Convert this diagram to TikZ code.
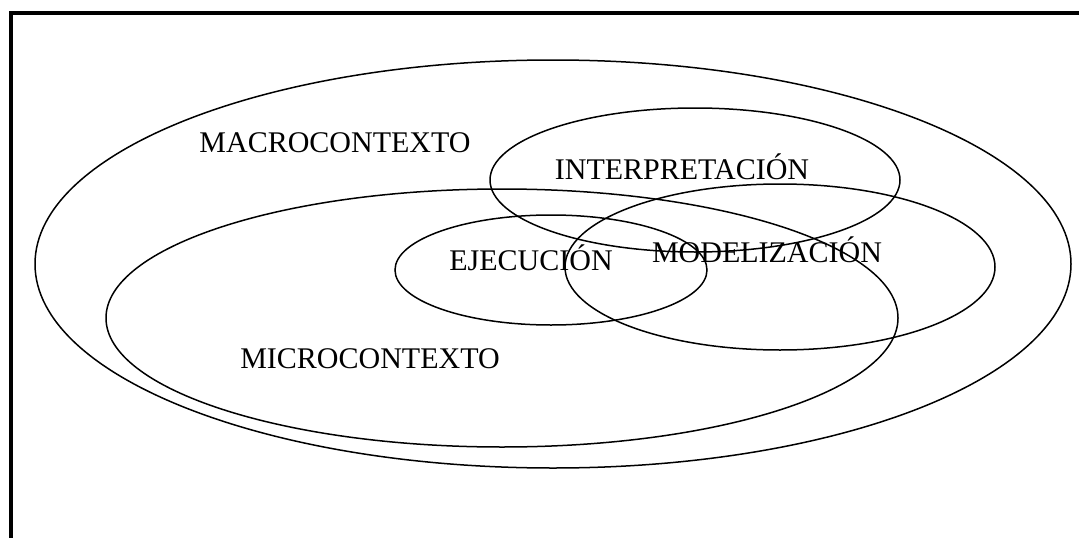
\documentclass[tikz,border=0pt]{standalone}
\usepackage{fontspec}
\setmainfont{Liberation Serif}
\tikzset{
  etiqueta/.style={font=\fontsize{30}{32}\selectfont, inner sep=0pt},
  contorno/.style={line width=1.5pt},
}
\begin{document}
\begin{tikzpicture}[x=1pt,y=-1pt]
            \useasboundingbox (0,0) rectangle (1079,538);
            \clip (0,0) rectangle (1079,538);
            \draw[line width=4pt] (11,560) -- (11,13) -- (1100,13);
            % contextos
            \draw[contorno] (553,264) ellipse [x radius=518, y radius=204];
            \draw[contorno] (502,318) ellipse [x radius=396, y radius=129];
            % fases
            \draw[contorno] (695,180) ellipse [x radius=205, y radius=72];
            \draw[contorno] (551,270) ellipse [x radius=156, y radius=55];
            \draw[contorno] (780,267) ellipse [x radius=215, y radius=83];
            \node[etiqueta] (macro) at (335,143) {MACROCONTEXTO};
            \node[etiqueta] (interp) at (682,167) {INTERPRETACIÓN};
            \node[etiqueta] (ejec) at (531,258) {EJECUCIÓN};
            \node[etiqueta] (model) at (767,250) {MODELIZACIÓN};
            \node[etiqueta] (micro) at (370,359) {MICROCONTEXTO};
        \end{tikzpicture}
\end{document}
